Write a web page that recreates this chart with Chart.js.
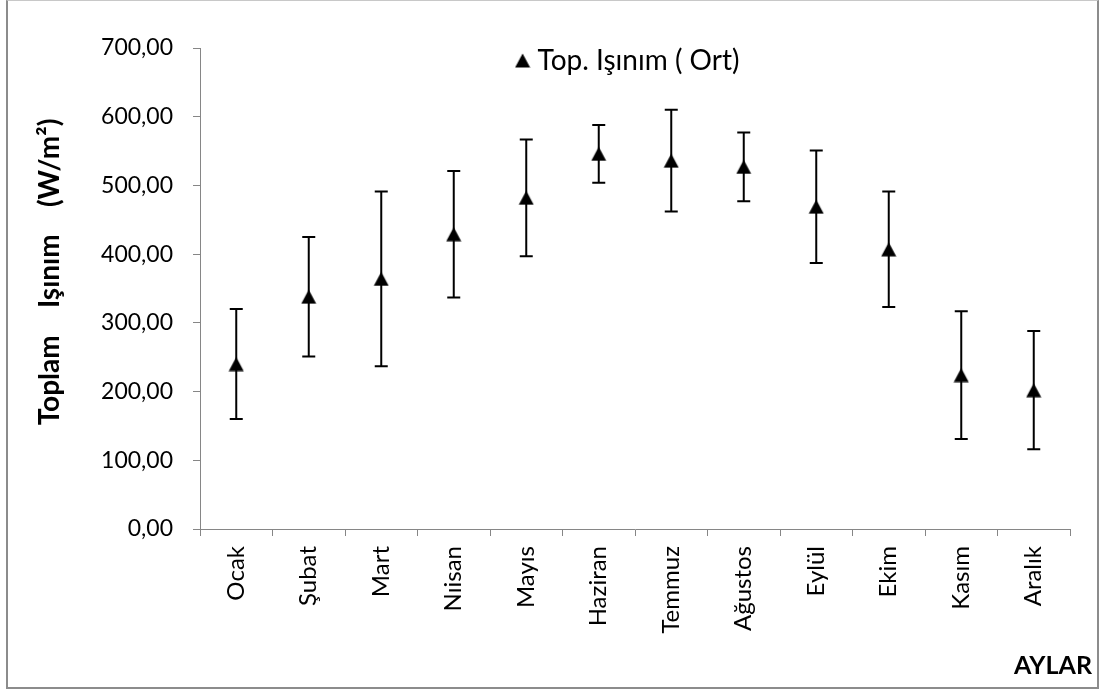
<!DOCTYPE html>
<html>
<head>
<meta charset="utf-8">
<script src="https://cdn.jsdelivr.net/npm/chart.js@4/dist/chart.umd.min.js"></script>
<style>
  html, body { margin: 0; padding: 0; background: #fff; }
  #wrap { position: relative; width: 1107px; height: 693px; }
  #c { position: absolute; left: 0; top: 0; }
  #frame {
    position: absolute; left: 6px; top: 0; width: 1093px; height: 689px;
    box-sizing: border-box; border: 2px solid #8c8c8c; border-top: 1px solid #c8c8c8;
    pointer-events: none;
  }
</style>
</head>
<body>
<div id="wrap">
  <canvas id="c" width="1107" height="693"></canvas>
  <div id="frame"></div>
</div>
<script>
// Monthly mean total irradiance (W/m²) and its standard deviation
const months = ['Ocak', 'Şubat', 'Mart', 'Nıisan', 'Mayıs', 'Haziran',
                'Temmuz', 'Ağustos', 'Eylül', 'Ekim', 'Kasım', 'Aralık'];
const meanIrradiance = [240, 338, 364, 429, 482, 546, 536, 527, 469, 407, 224, 202];
const stdIrradiance  = [80, 87, 127, 92, 85, 42, 74, 50, 82, 84, 93, 86];
const yTickValues = [0, 100, 200, 300, 400, 500, 600, 700];

const seriesLabel = 'Top. Işınım ( Ort)';
const yTitle = 'Toplam    Işınım    (W/m²)';
const xTitle = 'AYLAR';

const FONT = 'Lato, "Open Sans", sans-serif';
const AXIS_GREY = '#868686';

// Filled triangle marker, centred on its bounding box
function makeTriangle() {
  const cv = document.createElement('canvas');
  cv.width = 16; cv.height = 15;
  const g = cv.getContext('2d');
  g.fillStyle = '#000';
  g.beginPath();
  g.moveTo(8, 0.5);
  g.lineTo(15.5, 14.5);
  g.lineTo(0.5, 14.5);
  g.closePath();
  g.fill();
  return cv;
}
const triangle = makeTriangle();

// Vertical error bars with caps, drawn beneath the markers
const errorBars = {
  id: 'errorBars',
  beforeDatasetsDraw(chart) {
    const ctx = chart.ctx;
    const y = chart.scales.y;
    const meta = chart.getDatasetMeta(0);
    ctx.save();
    ctx.strokeStyle = '#000';
    ctx.lineWidth = 2;
    meta.data.forEach((pt, i) => {
      const x = pt.x;
      const top = y.getPixelForValue(meanIrradiance[i] + stdIrradiance[i]);
      const bot = y.getPixelForValue(meanIrradiance[i] - stdIrradiance[i]);
      ctx.beginPath();
      ctx.moveTo(x, top); ctx.lineTo(x, bot);
      ctx.moveTo(x - 6.5, top); ctx.lineTo(x + 6.5, top);
      ctx.moveTo(x - 6.5, bot); ctx.lineTo(x + 6.5, bot);
      ctx.stroke();
    });
    ctx.restore();
  }
};

// Legend inside the plot area plus the two axis titles
const annotations = {
  id: 'annotations',
  afterDraw(chart) {
    const ctx = chart.ctx;
    const area = chart.chartArea;
    ctx.save();
    ctx.fillStyle = '#000';

    // legend
    ctx.font = '28px ' + FONT;
    const tw = ctx.measureText(seriesLabel).width;
    const total = triangle.width + 7 + tw;
    const lx = (area.left + area.right) / 2 - 8 - total / 2;
    const ly = area.top + 6;
    ctx.drawImage(triangle, lx, ly - 1);
    ctx.textBaseline = 'middle';
    ctx.textAlign = 'left';
    ctx.fillText(seriesLabel, lx + triangle.width + 7, ly + 7);

    // y axis title
    ctx.font = 'bold 28px ' + FONT;
    ctx.translate(50, 272);
    ctx.rotate(-Math.PI / 2);
    ctx.textAlign = 'center';
    ctx.fillText(yTitle, 0, 0);
    ctx.setTransform(1, 0, 0, 1, 0, 0);

    // x axis title
    ctx.font = 'bold 25px ' + FONT;
    ctx.textAlign = 'right';
    ctx.fillText(xTitle, 1092, 666);
    ctx.restore();
  }
};

new Chart(document.getElementById('c'), {
  type: 'line',
  data: {
    labels: months,
    datasets: [{
      label: seriesLabel,
      data: meanIrradiance,
      showLine: false,
      pointStyle: triangle,
      pointRadius: 8,
      borderColor: '#000',
      backgroundColor: '#000'
    }]
  },
  options: {
    responsive: false,
    animation: false,
    events: [],
    layout: { padding: { top: 48, right: 37, bottom: 0, left: 0 } },
    plugins: {
      legend: { display: false },
      tooltip: { enabled: false }
    },
    scales: {
      x: {
        type: 'category',
        offset: true,
        afterFit(s) { s.height = 164; },
        grid: {
          offset: true,
          drawOnChartArea: false,
          drawTicks: true,
          tickLength: 7,
          color: AXIS_GREY,
          lineWidth: 1
        },
        border: { color: AXIS_GREY, width: 1 },
        ticks: {
          minRotation: 90,
          maxRotation: 90,
          autoSkip: false,
          padding: 10,
          color: '#000',
          font: { family: FONT, size: 24 }
        }
      },
      y: {
        min: 0,
        max: 700,
        afterFit(s) { s.width = 200; },
        afterBuildTicks(s) { s.ticks = yTickValues.map(v => ({ value: v })); },
        grid: {
          drawOnChartArea: false,
          drawTicks: true,
          tickLength: 7,
          color: AXIS_GREY,
          lineWidth: 1
        },
        border: { color: AXIS_GREY, width: 1 },
        ticks: {
          padding: 20,
          color: '#000',
          font: { family: FONT, size: 23 },
          callback: v => v.toFixed(2).replace('.', ',')
        }
      }
    }
  },
  plugins: [errorBars, annotations]
});
</script>
</body>
</html>
